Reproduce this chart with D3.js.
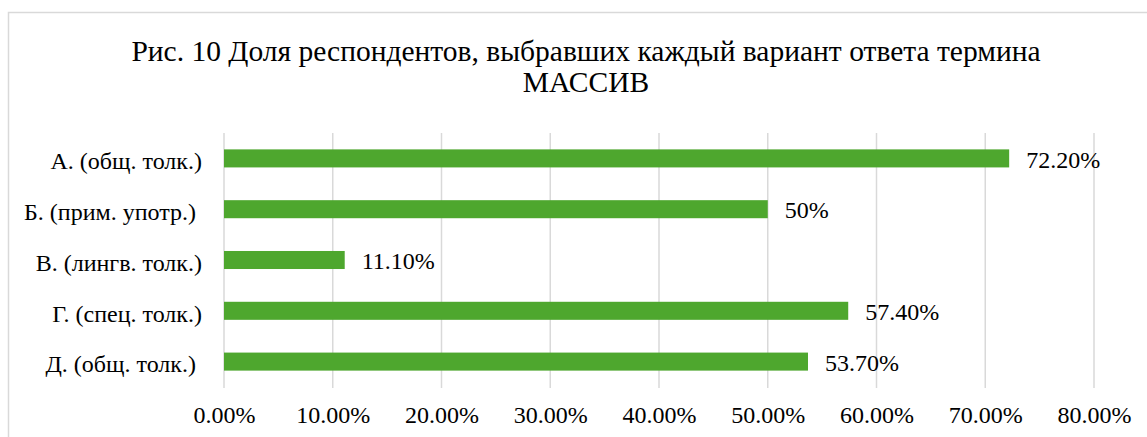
<!DOCTYPE html>
<html>
<head>
<meta charset="utf-8">
<script src="https://cdn.jsdelivr.net/npm/d3@7"></script>
<style>
  body { margin: 0; background: #fff; }
  svg text { font-family: "Liberation Serif", "Times New Roman", serif; fill: #000; white-space: pre; }
</style>
</head>
<body>
<div id="chart"></div>
<script>
const categories = ['А. (общ. толк.)', 'Б. (прим. употр.) ', 'В. (лингв. толк.)', 'Г. (спец. толк.)', 'Д. (общ. толк.) '];
const values = [72.2, 50, 11.1, 57.4, 53.7];
const valueLabels = ['72.20%', '50%', '11.10%', '57.40%', '53.70%'];
const ticks = [0, 10, 20, 30, 40, 50, 60, 70, 80];
const titleLines = ['Рис. 10 Доля респондентов, выбравших каждый вариант ответа термина', 'МАССИВ'];

const W = 1147, H = 437;
const MARGIN = {left: 224, right: 53, top: 133, bottom: 50};
const WIDTH = W - MARGIN.left - MARGIN.right;
const HEIGHT = H - MARGIN.top - MARGIN.bottom;

const svg = d3.select('#chart').append('svg')
    .attr('width', W)
    .attr('height', H);

// outer border of chart area (runs off the right and bottom edges)
svg.append('rect')
    .attr('x', 8.5).attr('y', 12.5)
    .attr('width', W + 20).attr('height', H + 20)
    .attr('fill', 'none')
    .attr('stroke', '#d9d9d9')
    .attr('stroke-width', 1.5);

svg.append('text')
    .attr('text-anchor', 'middle')
    .attr('font-size', '29.5px')
    .selectAll('tspan')
    .data(titleLines)
    .join('tspan')
        .attr('x', 586)
        .attr('y', (d, i) => 61 + i * 31)
        .text(d => d);

const g = svg.append('g')
    .attr('transform', `translate(${MARGIN.left},${MARGIN.top})`);

const x = d3.scaleLinear()
    .domain([0, 80])
    .range([0, WIDTH]);

const y = d3.scaleBand()
    .domain(categories)
    .range([0, HEIGHT])
    .paddingInner(0.645)
    .paddingOuter(0.3225);

// gridlines
g.append('g')
    .selectAll('line')
    .data(ticks)
    .join('line')
        .attr('x1', d => x(d)).attr('x2', d => x(d))
        .attr('y1', 0).attr('y2', HEIGHT + 1)
        .attr('stroke', '#d9d9d9')
        .attr('stroke-width', 1.5);

// x axis labels
const xAxis = d3.axisBottom(x)
    .tickValues(ticks)
    .tickSize(0)
    .tickPadding(0)
    .tickFormat(d => d.toFixed(2) + '%');

const xAxisGroup = g.append('g')
    .attr('transform', `translate(0,${HEIGHT})`)
    .call(xAxis)
    .attr('font-family', null);
xAxisGroup.select('.domain').remove();
xAxisGroup.selectAll('text')
    .attr('font-size', '24px')
    .attr('fill', '#000')
    .attr('dy', null)
    .attr('y', 36);

// y axis labels
const yAxis = d3.axisLeft(y).tickSize(0).tickPadding(22);
const yAxisGroup = g.append('g').call(yAxis).attr('font-family', null);
yAxisGroup.select('.domain').remove();
yAxisGroup.selectAll('text')
    .attr('font-size', '24px')
    .attr('fill', '#000')
    .attr('dy', '0.45em');

// bars
g.selectAll('rect.bar')
    .data(values)
    .join('rect')
        .attr('class', 'bar')
        .attr('x', x(0))
        .attr('y', (d, i) => y(categories[i]))
        .attr('width', d => x(d) - x(0))
        .attr('height', y.bandwidth())
        .attr('fill', '#4ea72e');

// value labels
g.selectAll('text.val')
    .data(values)
    .join('text')
        .attr('class', 'val')
        .attr('x', d => x(d) + 17)
        .attr('y', (d, i) => y(categories[i]) + y.bandwidth() / 2)
        .attr('dy', '0.38em')
        .attr('font-size', '24px')
        .text((d, i) => valueLabels[i]);
</script>
</body>
</html>
